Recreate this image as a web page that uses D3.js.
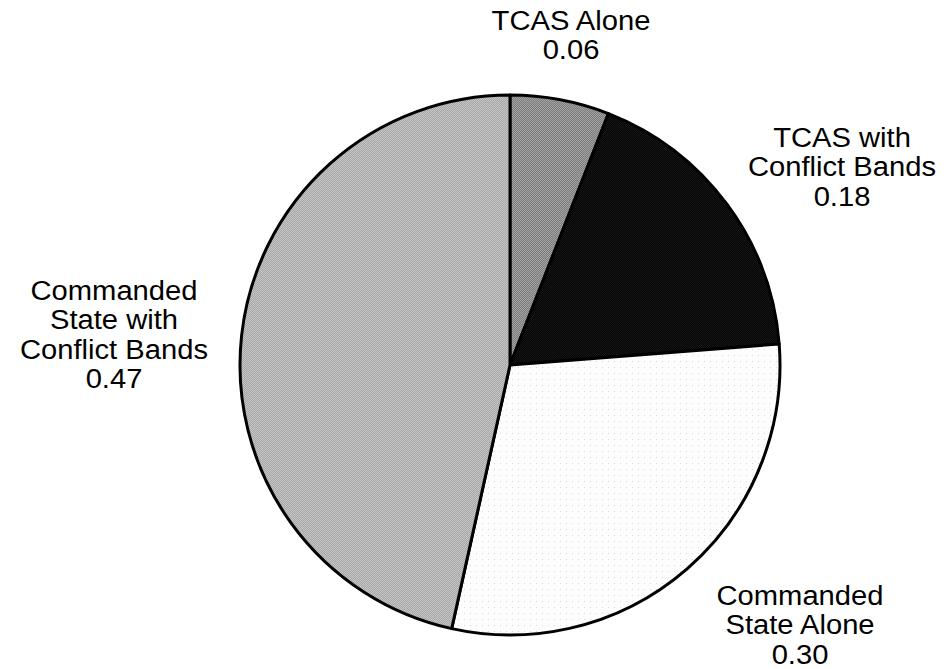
<!DOCTYPE html>
<html>
<head>
<meta charset="utf-8">
<script src="https://cdn.jsdelivr.net/npm/d3@7"></script>
<style>
html,body{margin:0;padding:0;background:#fff;}
svg{display:block;}
</style>
</head>
<body>
<svg id="chart" width="944" height="669"></svg>
<script>
const categories = ["TCAS Alone", "TCAS with Conflict Bands", "Commanded State Alone", "Commanded State with Conflict Bands"];
const values = [0.06, 0.18, 0.30, 0.47];
const valueLabels = ["0.06", "0.18", "0.30", "0.47"];
const labelLines = [["TCAS Alone"], ["TCAS with", "Conflict Bands"], ["Commanded", "State Alone"], ["Commanded", "State with", "Conflict Bands"]];
const fills = ["#8f8f8f", "#0d0d0d", "#fafafa", "#b6b6b6"];

const svg = d3.select("#chart");
const cx = 510, cy = 365, r = 270;

const defs = svg.append("defs");
// halftone-like textures
function checker(id, c1, c2) {
  const p = defs.append("pattern").attr("id", id).attr("width", 2).attr("height", 2).attr("patternUnits", "userSpaceOnUse");
  p.append("rect").attr("width", 2).attr("height", 2).attr("fill", c1);
  p.append("rect").attr("width", 1).attr("height", 1).attr("fill", c2);
  p.append("rect").attr("x", 1).attr("y", 1).attr("width", 1).attr("height", 1).attr("fill", c2);
}
checker("p0", "#a2a2a2", "#7c7c7c");
checker("p3", "#c6c6c6", "#a6a6a6");
checker("p1", "#161616", "#050505");
const pd = defs.append("pattern").attr("id", "p2").attr("width", 6).attr("height", 6).attr("patternUnits", "userSpaceOnUse");
pd.append("rect").attr("width", 6).attr("height", 6).attr("fill", "#fdfdfd");
pd.append("rect").attr("x", 2).attr("y", 2).attr("width", 1).attr("height", 1).attr("fill", "#d8d8d8");

const pie = d3.pie().sort(null).value(d => d);
const arcs = pie(values);
const arc = d3.arc().innerRadius(0).outerRadius(r);

const g = svg.append("g").attr("transform", `translate(${cx},${cy})`);
g.selectAll("path.slice").data(arcs).join("path")
  .attr("class", "slice")
  .attr("d", arc)
  .attr("fill", (d, i) => `url(#p${i})`)
  .attr("stroke", "#000")
  .attr("stroke-width", 3)
  .attr("stroke-linejoin", "round");

// labels: center x, first baseline, line spacing
const labelPos = [
  {x: 571, y: 30},
  {x: 842, y: 147},
  {x: 800, y: 605},
  {x: 114, y: 300}
];
const lineH = 29.5;
labelPos.forEach((p, i) => {
  const lines = labelLines[i].concat([valueLabels[i]]);
  const tg = svg.append("g").attr("transform", `translate(${p.x},${p.y}) scale(1.08,1)`);
  tg.selectAll("text").data(lines).join("text")
    .attr("x", 0)
    .attr("y", (d, j) => j * lineH)
    .attr("text-anchor", "middle")
    .attr("font-family", "Liberation Sans, Arial, Helvetica, sans-serif")
    .attr("font-size", 27)
    .attr("fill", "#000")
    .text(d => d);
});
</script>
</body>
</html>
